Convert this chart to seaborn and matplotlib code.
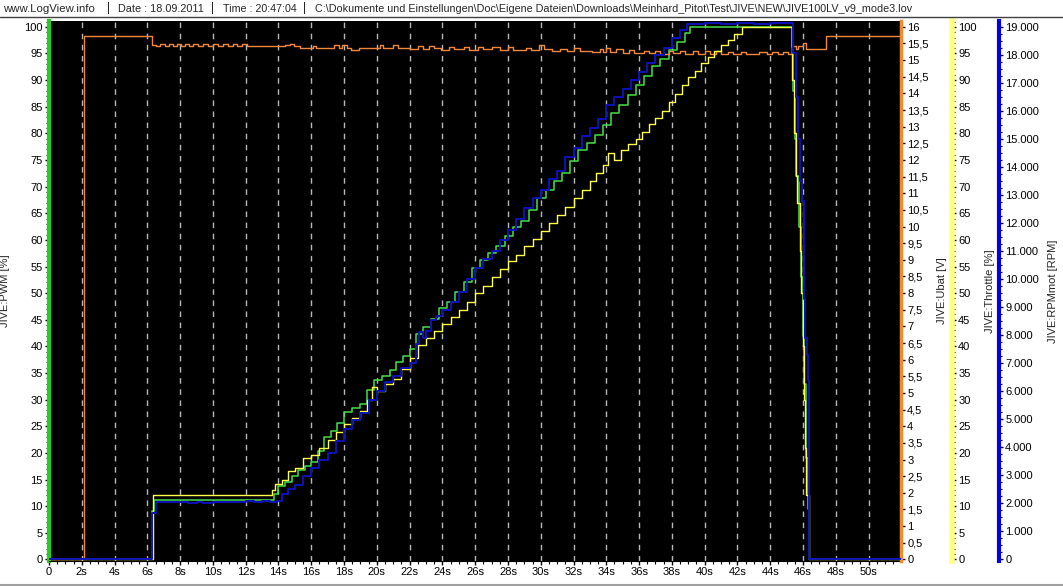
import matplotlib
matplotlib.use("Agg")
import matplotlib.pyplot as plt
import seaborn as sns
from matplotlib.lines import Line2D
from matplotlib.ticker import MultipleLocator, FuncFormatter

sns.set_style("white")
plt.rcParams["font.family"] = ["Liberation Sans", "DejaVu Sans"]

# JIVE:PWM [%] (green, left axis)
pwm_t = [0.0, 6.30, 6.40, 13.70, 14.00, 14.40, 14.80, 15.20, 15.60, 16.00,
         16.40, 16.80, 17.20, 17.60, 18.00, 18.50, 19.00, 19.40, 19.80, 20.30,
         20.80, 21.20, 21.60, 22.00, 22.40, 22.80, 23.30, 23.80, 24.30, 24.80,
         25.30, 25.80, 26.30, 26.80, 27.30, 27.80, 28.30, 28.80, 29.30, 29.80,
         30.30, 30.80, 31.30, 31.80, 32.30, 32.80, 33.30, 33.80, 34.30, 34.80,
         35.30, 35.80, 36.30, 36.80, 37.30, 37.80, 38.30, 38.80, 39.10, 45.30,
         45.40, 45.50, 45.60, 45.75, 45.85, 46.00, 46.08, 46.20, 46.30, 46.36,
         52.00]
pwm_v = [0.0, 9.0, 11.1, 12.2, 13.8, 14.6, 15.6, 16.8, 17.6, 18.2,
         20.4, 23.0, 24.2, 25.6, 27.6, 28.4, 29.2, 31.8, 33.6, 34.4,
         35.6, 37.0, 38.2, 39.6, 42.4, 43.6, 45.2, 47.2, 48.4, 50.2,
         52.0, 54.8, 56.2, 57.6, 58.8, 60.8, 62.4, 63.6, 65.6, 67.8,
         69.4, 71.0, 72.6, 74.8, 76.8, 78.2, 79.6, 81.6, 83.8, 85.4,
         87.2, 89.0, 90.8, 92.6, 94.0, 95.6, 97.2, 98.8, 100.0, 96.3,
         88.0, 79.0, 72.0, 62.5, 53.0, 42.0, 33.0, 19.0, 9.4, 0.0,
         0.0]

# JIVE:Ubat [V] (orange)
ubat_t = [0.00, 2.12, 6.30, 6.55, 6.80, 7.05, 7.30, 7.55, 7.80, 8.05,
          8.30, 8.55, 8.80, 9.10, 9.40, 9.70, 10.00, 10.30, 10.60, 10.90,
          11.20, 11.50, 11.80, 12.10, 12.40, 14.40, 14.70, 14.95, 15.30, 16.10,
          16.30, 16.70, 17.40, 17.70, 17.90, 18.20, 18.40, 18.90, 20.20, 20.40,
          21.00, 21.30, 22.00, 22.50, 22.80, 23.20, 23.50, 23.90, 24.40, 24.70,
          25.30, 25.60, 26.20, 26.50, 27.00, 27.50, 28.00, 28.30, 29.10, 29.40,
          29.90, 30.20, 30.70, 31.20, 31.60, 32.00, 32.40, 33.10, 33.60, 33.80,
          34.00, 34.20, 34.60, 35.00, 35.40, 35.70, 36.30, 36.60, 37.00, 37.30,
          37.80, 38.10, 38.50, 38.80, 39.30, 39.60, 40.00, 40.30, 40.70, 41.00,
          41.40, 41.70, 42.20, 42.50, 43.00, 43.30, 43.80, 44.10, 44.50, 44.80,
          45.10, 45.35, 45.55, 45.70, 46.00, 46.20, 47.40, 52.00]
ubat_v = [0.00, 15.72, 15.46, 15.42, 15.47, 15.42, 15.47, 15.43, 15.48, 15.43,
          15.47, 15.42, 15.47, 15.43, 15.48, 15.42, 15.47, 15.43, 15.48, 15.42,
          15.47, 15.43, 15.47, 15.42, 15.41, 15.45, 15.47, 15.41, 15.35, 15.43,
          15.36, 15.35, 15.44, 15.36, 15.44, 15.35, 15.30, 15.37, 15.44, 15.37,
          15.44, 15.36, 15.33, 15.42, 15.33, 15.42, 15.36, 15.31, 15.40, 15.32,
          15.38, 15.31, 15.40, 15.32, 15.38, 15.29, 15.38, 15.30, 15.37, 15.29,
          15.44, 15.32, 15.26, 15.34, 15.26, 15.36, 15.26, 15.24, 15.33, 15.24,
          15.36, 15.25, 15.32, 15.22, 15.30, 15.22, 15.28, 15.20, 15.27, 15.19,
          15.28, 15.20, 15.27, 15.19, 15.27, 15.19, 15.26, 15.19, 15.26, 15.18,
          15.25, 15.17, 15.25, 15.17, 15.17, 15.24, 15.19, 15.25, 15.18, 15.25,
          15.18, 15.41, 15.33, 15.41, 15.52, 15.33, 15.73, 15.73]

# JIVE:Throttle [%] (yellow)
thr_t = [0.00, 6.32, 13.60, 13.80, 14.20, 14.60, 15.00, 15.50, 16.00, 16.50,
         17.00, 17.50, 18.00, 18.50, 19.00, 19.40, 19.70, 20.00, 20.50, 21.00,
         21.50, 22.00, 22.50, 23.00, 23.50, 24.00, 24.50, 25.00, 25.50, 26.00,
         26.50, 27.00, 27.50, 28.00, 28.50, 29.00, 29.50, 30.00, 30.50, 31.00,
         31.50, 32.00, 32.50, 33.00, 33.40, 33.80, 34.10, 34.50, 34.90, 35.30,
         35.80, 36.20, 36.60, 37.00, 37.40, 37.80, 38.20, 38.60, 39.00, 39.40,
         39.80, 40.20, 40.60, 41.00, 41.40, 41.80, 42.30, 45.35, 45.45, 45.60,
         45.65, 45.80, 45.90, 46.00, 46.05, 46.10, 46.20, 46.36, 52.00]
thr_v = [0.0, 12.0, 13.0, 14.2, 15.0, 16.6, 17.2, 19.0, 19.6, 21.0,
         22.4, 24.0, 25.4, 26.6, 27.8, 30.0, 32.4, 31.6, 33.0, 33.8,
         35.8, 37.8, 40.2, 41.6, 42.8, 44.2, 45.6, 46.8, 48.4, 50.0,
         51.4, 53.0, 54.6, 56.0, 57.2, 58.8, 60.2, 61.6, 63.2, 64.6,
         66.2, 67.8, 69.4, 71.0, 72.6, 74.0, 76.4, 75.0, 76.8, 78.0,
         79.0, 80.2, 81.8, 82.8, 84.2, 85.8, 87.4, 89.0, 90.6, 91.8,
         93.2, 94.4, 95.4, 96.6, 97.6, 98.6, 100.0, 90.0, 80.0, 72.0,
         67.0, 58.0, 50.0, 40.0, 30.0, 21.0, 12.0, 0.0, 0.0]

# JIVE:RPMmot [RPM] (blue)
rpm_t = [0.00, 6.30, 6.55, 8.50, 9.00, 9.40, 10.00, 11.00, 12.00, 12.50,
         13.00, 13.50, 13.90, 14.20, 14.60, 15.00, 15.50, 16.00, 16.50, 17.00,
         17.50, 18.00, 18.50, 19.00, 19.50, 20.00, 20.50, 21.00, 21.50, 22.00,
         22.40, 22.60, 22.80, 23.00, 23.30, 23.60, 24.00, 24.50, 25.00, 25.50,
         26.00, 26.50, 27.00, 27.50, 28.00, 28.50, 29.00, 29.50, 30.00, 30.50,
         31.00, 31.50, 32.00, 32.50, 33.00, 33.50, 34.00, 34.50, 35.00, 35.50,
         36.00, 36.50, 37.00, 37.50, 38.00, 38.50, 38.90, 40.00, 41.00, 42.00,
         43.00, 44.00, 45.40, 45.55, 45.68, 45.80, 45.95, 46.05, 46.15, 46.25,
         46.30, 46.36, 52.00]
rpm_v = [0, 1670, 2040, 2000, 2060, 2020, 2060, 2040, 2080, 2050,
         2090, 2060, 2100, 2330, 2520, 2650, 2980, 3270, 3560, 3800,
         4240, 4640, 4970, 5230, 5700, 6000, 6340, 6540, 6830, 7010,
         7700, 8100, 7900, 8140, 8550, 8700, 8910, 9200, 9540, 10000,
         10390, 10700, 11000, 11380, 11760, 12160, 12550, 12900, 13190, 13580,
         13860, 14350, 14670, 15100, 15400, 15700, 16220, 16500, 16800, 17100,
         17400, 17700, 17980, 18250, 18600, 18900, 19100, 19150, 19100, 19150,
         19100, 19150, 18050, 16500, 15000, 13500, 12800, 9300, 7900, 7300,
         6400, 0, 0]

header_parts = ["www.LogView.info", "|", "Date : 18.09.2011", "|", "Time : 20:47:04", "|",
                "C:\\Dokumente und Einstellungen\\Doc\\Eigene Dateien\\Downloads\\Meinhard_Pitot"
                "\\Test\\JIVE\\NEW\\JIVE100LV_v9_mode3.lov"]
header_x = [3, 107, 118, 211, 223, 303, 315]
header_fs = [8.2, 8.5, 7.8, 8.5, 7.7, 8.5, 7.75]

W, H = 1063, 586
fig = plt.figure(figsize=(W / 100, H / 100), dpi=100)
ax = fig.add_axes([49 / W, 25 / H, 852 / W, 540 / H])
ax.set_facecolor("black")

ax_u = ax.twinx()
ax_t = ax.twinx()
ax_r = ax.twinx()
ax_t.spines["right"].set_position(("axes", (952 - 49) / 852))
ax_r.spines["right"].set_position(("axes", (999 - 49) / 852))

sns.lineplot(x=pwm_t, y=pwm_v, ax=ax, color="#44e044", lw=1.1,
             drawstyle="steps-post", estimator=None, sort=False)
sns.lineplot(x=ubat_t, y=ubat_v, ax=ax_u, color="#f0883c", lw=1.0,
             drawstyle="steps-post", estimator=None, sort=False)
sns.lineplot(x=thr_t, y=thr_v, ax=ax_t, color="#ffff48", lw=1.0,
             drawstyle="steps-post", estimator=None, sort=False)
sns.lineplot(x=rpm_t, y=rpm_v, ax=ax_r, color="#0c12b8", lw=1.4,
             drawstyle="steps-post", estimator=None, sort=False)

top = 101.1
ax.set_xlim(0, 51.98)
ax.set_ylim(-0.3, top)
ax_u.set_ylim(-0.3 * 0.16, top * 0.16)
ax_t.set_ylim(-0.3, top)
ax_r.set_ylim(-0.3 * 190, top * 190)

# x axis
ax.xaxis.set_major_locator(MultipleLocator(2))
ax.xaxis.set_minor_locator(MultipleLocator(0.5))
ax.xaxis.set_major_formatter(FuncFormatter(lambda v, p: "0" if v == 0 else f"{int(v)}s"))
ax.xaxis.grid(True, which="major", color="#b8b8b8", linestyle=(0, (4, 4)), lw=1)
ax.yaxis.grid(False)

# left axis
ax.yaxis.set_major_locator(MultipleLocator(5))
ax.yaxis.set_minor_locator(MultipleLocator(1))
ax.tick_params(axis="both", which="major", length=3, width=1, labelsize=8, pad=1.5,
               colors="black", bottom=True, left=True)
ax.tick_params(axis="both", which="minor", length=2, width=0.8, colors="black",
               bottom=True, left=True)
ax.set_ylabel("JIVE:PWM [%]", fontsize=8)
ax.yaxis.set_label_coords(-0.046, 0.5)
for s in ["top", "right"]:
    ax.spines[s].set_visible(False)
ax.spines["bottom"].set_color("black")
ax.spines["left"].set_color("#22cc22")
ax.spines["left"].set_linewidth(3)

# right axes
specs = [
    (ax_u, "#f08a2c", 2.5, "JIVE:Ubat [V]", 1.042, 0.5, None,
     lambda v, p: f"{v:g}".replace(".", ",")),
    (ax_t, "#ffff80", 4, "JIVE:Throttle [%]", 1.0986, 5, 1,
     lambda v, p: f"{v:g}"),
    (ax_r, "#0000e0", 3, "JIVE:RPMmot [RPM]", 1.1725, 1000, 250,
     lambda v, p: f"{int(v):,}".replace(",", ".")),
]
for a, col, lw, label, lx, major, minor, fmt in specs:
    for s in ["top", "left", "bottom"]:
        a.spines[s].set_visible(False)
    a.spines["right"].set_color(col)
    a.spines["right"].set_linewidth(lw)
    a.yaxis.set_major_locator(MultipleLocator(major))
    if minor:
        a.yaxis.set_minor_locator(MultipleLocator(minor))
    a.yaxis.set_major_formatter(FuncFormatter(fmt))
    a.tick_params(axis="y", which="major", length=3, width=1, labelsize=8, pad=1.5,
                  colors="black", right=True)
    a.tick_params(axis="y", which="minor", length=2, width=0.8, colors="black", right=True)
    a.set_ylabel(label, fontsize=8)
    a.yaxis.set_label_coords(lx, 0.5)
    a.set_xlabel("")
ax.set_xlabel("")

# header strip
for txt, px, fs in zip(header_parts, header_x, header_fs):
    fig.text(px / W, 1 - 8.5 / H, txt, fontsize=fs, va="center", ha="left")
fig.add_artist(Line2D([0, 1], [1 - 16.5 / H] * 2, transform=fig.transFigure,
                      color="#404040", lw=1))
fig.add_artist(Line2D([0, 1], [1.5 / H] * 2, transform=fig.transFigure,
                      color="#a0a0a0", lw=1.5))

fig.savefig("out.png", dpi=100)
